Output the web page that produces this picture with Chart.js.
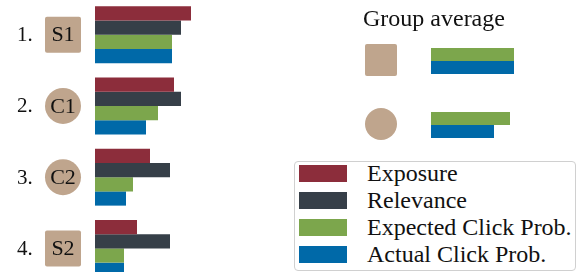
<html lang="en">
<head>
    <meta charset="UTF-8"/>
    <title>Exposure vs click probability</title>
    <script src="https://cdn.jsdelivr.net/npm/chart.js@4/dist/chart.umd.min.js"></script>
    <style>
        body { margin: 0; width: 579px; height: 272px; overflow: hidden; position: relative; background: #fff;
               font-family: "Liberation Serif", "Times New Roman", serif; }
        #mainWrap { position: absolute; left: 0; top: -1px; width: 200px; height: 285px; }
        #avgWrap { position: absolute; left: 350px; top: 0; width: 229px; height: 160px; }
        #legend { position: absolute; left: 294px; top: 161px; width: 282px; height: 110px; box-sizing: border-box;
                  border: 1px solid #d0d0d0; border-radius: 4px; padding: 3px 0 0 4px; }
        .item { display: flex; align-items: center; height: 17px; margin-bottom: 10px; }
        .swatch { width: 48px; height: 17px; flex: none; }
        .label { margin-left: 20px; font-size: 24px; line-height: 17px; color: #111; white-space: nowrap; }
    </style>
</head>
<body>
<div id="mainWrap"><canvas id="mainChart"></canvas></div>
<div id="avgWrap"><canvas id="avgChart"></canvas></div>
<div id="legend"></div>
<script>
    // ranking positions and the item shown at each
    const ranks = ['1.', '2.', '3.', '4.'];
    const items = ['S1', 'C1', 'C2', 'S2'];
    const shapes = ['square', 'circle', 'circle', 'square'];

    // bar values, per position
    const exposure = [0.96, 0.79, 0.55, 0.42];
    const relevance = [0.86, 0.86, 0.75, 0.75];
    const expectedClick = [0.77, 0.63, 0.38, 0.29];
    const actualClick = [0.77, 0.51, 0.31, 0.29];

    // group averages (square group, circle group)
    const avgGroups = ['square', 'circle'];
    const avgExpected = [0.83, 0.79];
    const avgActual = [0.83, 0.63];

    const colors = {
        exposure: '#8c2d3b',
        relevance: '#363f48',
        expected: '#7ca64c',
        actual: '#0069a8'
    };
    const iconColor = '#bfa58d';
    const serif = '"Liberation Serif", "Times New Roman", serif';

    function drawIcon(ctx, shape, x, y, size) {
        ctx.fillStyle = iconColor;
        ctx.beginPath();
        if (shape === 'circle') {
            ctx.arc(x, y, size / 2, 0, Math.PI * 2);
        } else {
            ctx.roundRect(x - size / 2, y - size / 2, size, size, 2);
        }
        ctx.fill();
    }

    // draws rank numbers and the item icons next to each group of bars
    const rankLabels = {
        id: 'rankLabels',
        afterDraw(chart) {
            const ctx = chart.ctx;
            const y = chart.scales.y;
            ctx.save();
            ranks.forEach((r, i) => {
                const cy = y.getPixelForValue(i);
                ctx.fillStyle = '#111';
                ctx.font = '21px ' + serif;
                ctx.textAlign = 'left';
                ctx.textBaseline = 'middle';
                ctx.fillText(r, 17, cy + 1);
                drawIcon(ctx, shapes[i], 63, cy, 36);
                ctx.fillStyle = '#111';
                ctx.font = '22px ' + serif;
                ctx.textAlign = 'center';
                ctx.fillText(items[i], 63, cy + 1);
            });
            ctx.restore();
        }
    };

    const avgIcons = {
        id: 'avgIcons',
        afterDraw(chart) {
            const ctx = chart.ctx;
            const y = chart.scales.y;
            ctx.save();
            ctx.fillStyle = '#111';
            ctx.font = '24px ' + serif;
            ctx.textAlign = 'left';
            ctx.textBaseline = 'alphabetic';
            ctx.fillText('Group average', 13, 26);
            avgGroups.forEach((g, i) => {
                drawIcon(ctx, g, 31, y.getPixelForValue(i) - 1, 32);
            });
            ctx.restore();
        }
    };

    const barDefaults = { categoryPercentage: 0.8, barPercentage: 1.0, borderWidth: 0 };

    const mainChart = new Chart(document.getElementById('mainChart'), {
        type: 'bar',
        data: {
            labels: ranks,
            datasets: [
                { label: 'Exposure', data: exposure, backgroundColor: colors.exposure, ...barDefaults },
                { label: 'Relevance', data: relevance, backgroundColor: colors.relevance, ...barDefaults },
                { label: 'Expected Click Prob.', data: expectedClick, backgroundColor: colors.expected, ...barDefaults },
                { label: 'Actual Click Prob.', data: actualClick, backgroundColor: colors.actual, ...barDefaults }
            ]
        },
        options: {
            indexAxis: 'y',
            responsive: true,
            maintainAspectRatio: false,
            animation: false,
            layout: { padding: { left: 95, right: 5, top: 0, bottom: 0 } },
            scales: {
                x: { display: false, min: 0, max: 1 },
                y: { display: false }
            },
            plugins: { legend: { display: false }, tooltip: { enabled: false } }
        },
        plugins: [rankLabels]
    });

    new Chart(document.getElementById('avgChart'), {
        type: 'bar',
        data: {
            labels: avgGroups,
            datasets: [
                { label: 'Expected Click Prob.', data: avgExpected, backgroundColor: colors.expected,
                  categoryPercentage: 0.406, barPercentage: 1.0, borderWidth: 0 },
                { label: 'Actual Click Prob.', data: avgActual, backgroundColor: colors.actual,
                  categoryPercentage: 0.406, barPercentage: 1.0, borderWidth: 0 }
            ]
        },
        options: {
            indexAxis: 'y',
            responsive: true,
            maintainAspectRatio: false,
            animation: false,
            layout: { padding: { left: 81, right: 48, top: 29, bottom: 3 } },
            scales: {
                x: { display: false, min: 0, max: 1 },
                y: { display: false }
            },
            plugins: { legend: { display: false }, tooltip: { enabled: false } }
        },
        plugins: [avgIcons]
    });

    // html legend built from the main chart's datasets
    const legend = document.getElementById('legend');
    for (let ds of mainChart.data.datasets) {
        const row = document.createElement('div');
        row.className = 'item';
        const sw = document.createElement('div');
        sw.className = 'swatch';
        sw.style.background = ds.backgroundColor;
        const lb = document.createElement('div');
        lb.className = 'label';
        lb.textContent = ds.label;
        row.appendChild(sw);
        row.appendChild(lb);
        legend.appendChild(row);
    }
</script>
</body>
</html>
